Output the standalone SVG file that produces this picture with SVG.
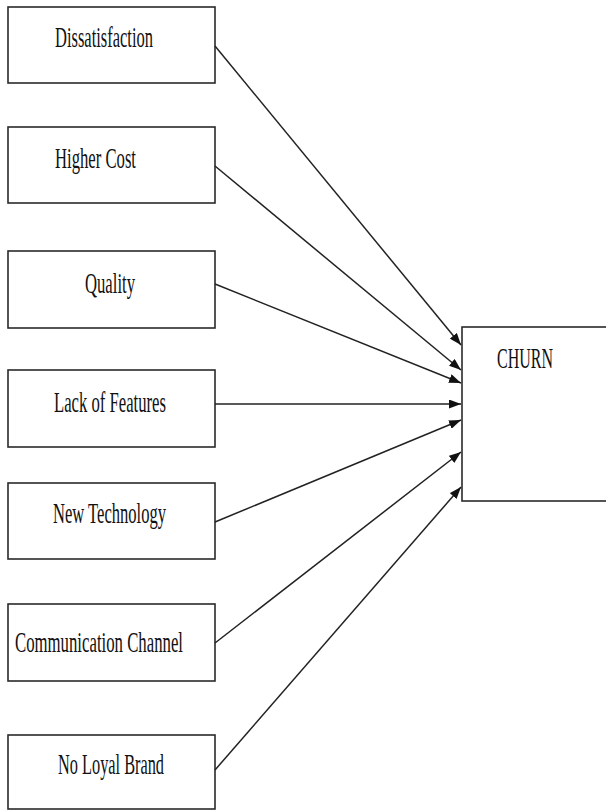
<svg xmlns="http://www.w3.org/2000/svg" width="606" height="811" viewBox="0 0 606 811">
<style>
.box{fill:#fff;stroke:#2a2a2a;stroke-width:1.6}
.lbl{font-family:"Liberation Serif","Times New Roman",serif;font-size:30px;fill:#111}
.edge{stroke:#222;stroke-width:1.5;fill:none;marker-end:url(#arr)}
</style>
<defs>
<marker id="arr" markerWidth="12" markerHeight="9" refX="12" refY="4.5" orient="auto" markerUnits="userSpaceOnUse">
<path d="M0,0 L12,4.5 L0,9 Z" fill="#111"/>
</marker>
</defs>
<rect width="606" height="811" fill="#fff"/>
<g id="n1"><rect class="box" x="8" y="7" width="207" height="76"/><text class="lbl" x="55" y="47" textLength="98" lengthAdjust="spacingAndGlyphs">Dissatisfaction</text></g>
<g id="n2"><rect class="box" x="8" y="127" width="207" height="76"/><text class="lbl" x="55" y="168" textLength="81" lengthAdjust="spacingAndGlyphs">Higher Cost</text></g>
<g id="n3"><rect class="box" x="8" y="251" width="207" height="77"/><text class="lbl" x="85" y="293" textLength="50" lengthAdjust="spacingAndGlyphs">Quality</text></g>
<g id="n4"><rect class="box" x="8" y="370" width="207" height="77"/><text class="lbl" x="54" y="412" textLength="112" lengthAdjust="spacingAndGlyphs">Lack of Features</text></g>
<g id="n5"><rect class="box" x="8" y="483" width="207" height="76"/><text class="lbl" x="53" y="523" textLength="113" lengthAdjust="spacingAndGlyphs">New Technology</text></g>
<g id="n6"><rect class="box" x="8" y="604" width="207" height="77"/><text class="lbl" x="15" y="652" textLength="168" lengthAdjust="spacingAndGlyphs">Communication Channel</text></g>
<g id="n7"><rect class="box" x="8" y="735" width="207" height="74"/><text class="lbl" x="58" y="774" textLength="106" lengthAdjust="spacingAndGlyphs">No Loyal Brand</text></g>
<g id="churn"><rect class="box" x="462" y="327" width="160" height="174"/><text class="lbl" x="497" y="368" textLength="56" lengthAdjust="spacingAndGlyphs">CHURN</text></g>
<g id="connectors">
<line class="edge" x1="215" y1="46" x2="461" y2="345"/>
<line class="edge" x1="215" y1="166" x2="461" y2="370"/>
<line class="edge" x1="215" y1="284" x2="461" y2="383"/>
<line class="edge" x1="215" y1="404" x2="461" y2="404"/>
<line class="edge" x1="215" y1="522" x2="461" y2="420"/>
<line class="edge" x1="215" y1="643" x2="461" y2="452"/>
<line class="edge" x1="215" y1="770" x2="461" y2="487"/>
</g>
</svg>
